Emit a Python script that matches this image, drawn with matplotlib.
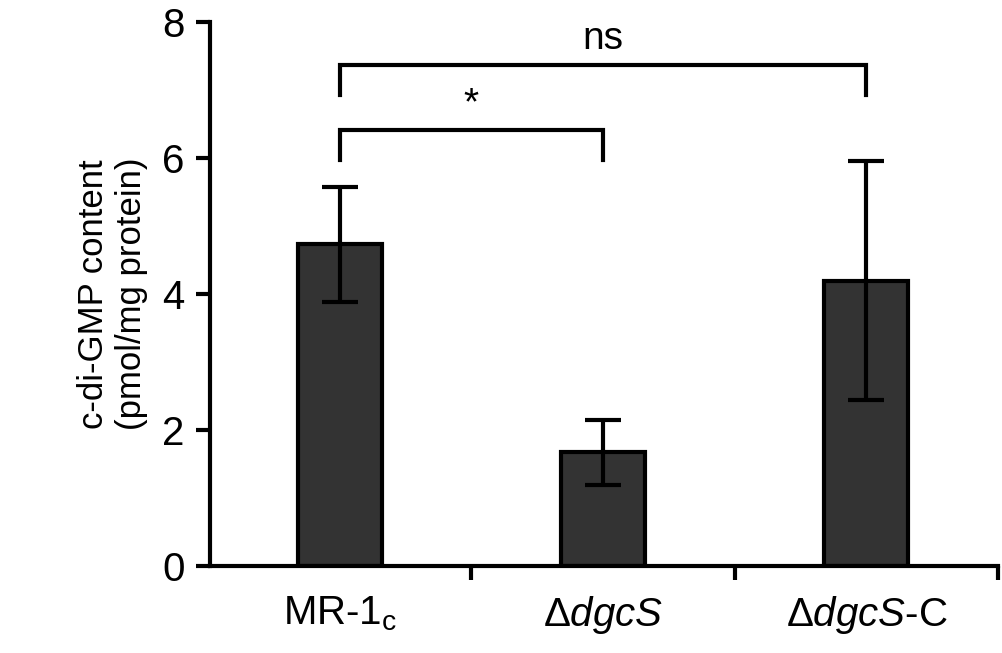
import matplotlib
matplotlib.use("Agg")
import matplotlib.pyplot as plt

plt.rcParams["font.family"] = "Liberation Sans"
plt.rcParams["mathtext.fontset"] = "custom"
plt.rcParams["mathtext.rm"] = "Liberation Sans"
plt.rcParams["mathtext.it"] = "Liberation Sans:italic"

labels = ["MR-1$_\\mathregular{c}$", "Δ$\\it{dgcS}$", "Δ$\\it{dgcS}$-C"]
values = [4.74, 1.68, 4.19]
err_hi = [5.57, 2.15, 5.96]
err_lo = [3.89, 1.19, 2.44]
brackets = [(0, 1, 6.41, "*"), (0, 2, 7.37, "ns")]

fig = plt.figure(figsize=(10.03, 6.53), dpi=100)
ax = fig.add_axes([0.209, 0.133, 0.786, 0.833])

x = list(range(len(values)))
yerr = [[v - lo for v, lo in zip(values, err_lo)],
        [hi - v for v, hi in zip(values, err_hi)]]
ax.bar(x, values, width=0.32, color="#333333", edgecolor="black", linewidth=3,
       yerr=yerr, error_kw=dict(elinewidth=3, capsize=13, capthick=3, ecolor="black"))

for a, b, y, txt in brackets:
    ax.plot([a, a, b, b], [y - 0.44, y, y, y - 0.44], color="black", lw=3,
            solid_joinstyle="miter")
    ax.text((a + b) / 2, y + 0.12, txt, ha="center", va="bottom", fontsize=28)

ax.set_xlim(-0.494, 2.5)
ax.set_ylim(0, 8)
ax.set_yticks([0, 2, 4, 6, 8])
ax.set_xticks(x)
ax.set_xticklabels(labels)
ax.set_xticks([0.5, 1.5, 2.5], minor=True)
ax.tick_params(axis="x", which="major", length=0, pad=20, labelsize=29)
ax.tick_params(axis="x", which="minor", length=10, width=3, direction="out")
ax.tick_params(axis="y", length=10, width=3, direction="out", labelsize=29, pad=8)
for s in ["top", "right"]:
    ax.spines[s].set_visible(False)
for s in ["left", "bottom"]:
    ax.spines[s].set_linewidth(3)
ax.set_ylabel("c-di-GMP content\n(pmol/mg protein)", fontsize=25, labelpad=10)

fig.savefig("out.png", dpi=100)
